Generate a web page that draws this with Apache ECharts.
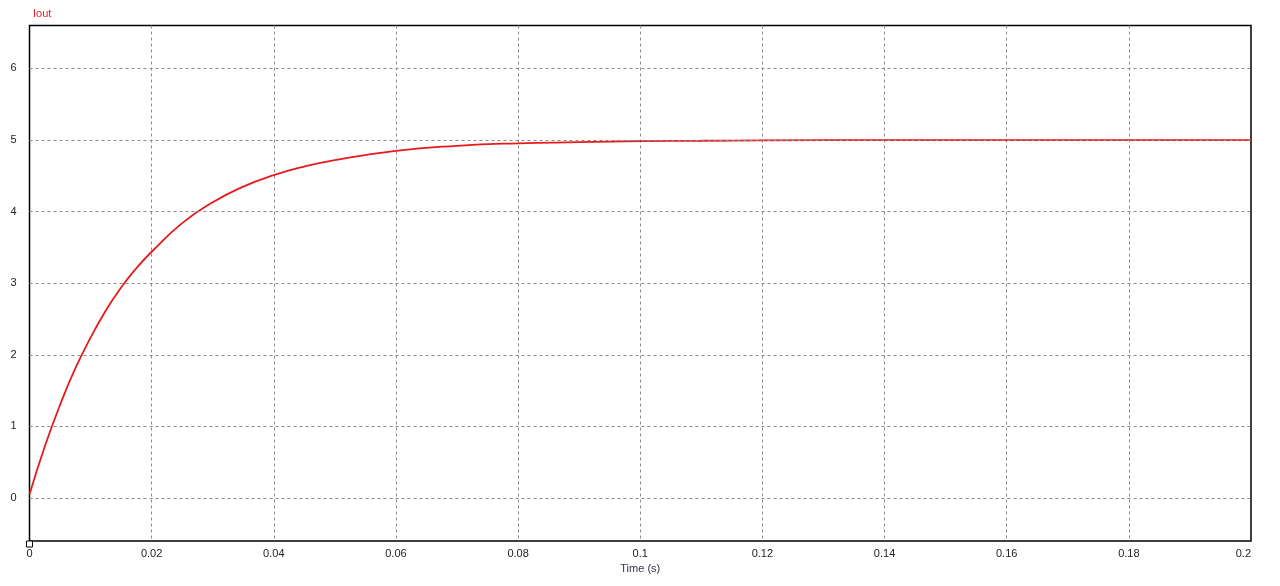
<!DOCTYPE html>
<html>
<head>
    <meta charset="utf-8">
    <title>Iout</title>
    <script src="https://cdn.jsdelivr.net/npm/echarts@6/dist/echarts.min.js"></script>
    <style>
        html, body { margin: 0; padding: 0; background: #fff; }
        #main { width: 1280px; height: 586px; }
    </style>
</head>
<body>
<div id="main"></div>
<script type="text/javascript">
    // values (time in s, current in A)
    var timeS = [0, 0.0025, 0.005, 0.0075, 0.01, 0.0125, 0.015, 0.0175, 0.02, 0.025, 0.03, 0.035,
        0.04, 0.045, 0.05, 0.06, 0.07, 0.08, 0.09, 0.1, 0.11, 0.12, 0.14, 0.16, 0.18, 0.2];
    var iout = [0.05, 0.72, 1.30, 1.81, 2.24, 2.62, 2.94, 3.21, 3.44, 3.84, 4.13, 4.35,
        4.51, 4.63, 4.72, 4.85, 4.92, 4.955, 4.97, 4.985, 4.99, 4.995, 5.0, 5.0, 5.0, 5.0];
    var yTicks = [0, 1, 2, 3, 4, 5, 6];

    var myChart = echarts.init(document.getElementById('main'));

    var points = timeS.map(function (t, i) { return [t, iout[i]]; });

    var option = {
        backgroundColor: '#fff',
        animation: false,
        textStyle: { fontFamily: 'Liberation Sans, Arial, sans-serif' },
        title: {
            text: 'Iout',
            left: 28,
            top: 3,
            textStyle: { fontSize: 11, fontWeight: 'normal', color: '#e0202a' }
        },
        grid: {
            left: 29.5, right: 29, top: 25.5, bottom: 45,
            show: true,
            borderColor: '#000',
            borderWidth: 1.5
        },
        xAxis: {
            type: 'value',
            min: 0,
            max: 0.2,
            interval: 0.02,
            name: 'Time (s)',
            nameLocation: 'middle',
            nameGap: 21,
            nameTextStyle: { fontSize: 11, color: '#3a2f45' },
            axisLine: { show: false },
            axisTick: { show: false },
            axisLabel: {
                fontSize: 11,
                color: '#222',
                margin: 7,
                alignMaxLabel: 'right',
                formatter: function (v) { return String(parseFloat(v.toFixed(3))); }
            },
            splitLine: {
                show: true,
                showMinLine: false,
                showMaxLine: false,
                lineStyle: { color: '#8c8c8c', type: [3, 3], width: 1 }
            }
        },
        yAxis: {
            type: 'value',
            min: -0.6,
            max: 6.6,
            axisLine: { show: false },
            axisTick: { show: false },
            splitLine: { show: false },
            axisLabel: {
                fontSize: 11,
                color: '#222',
                margin: 13,
                customValues: yTicks
            }
        },
        series: [{
            type: 'line',
            data: points,
            smooth: true,
            showSymbol: false,
            lineStyle: { color: '#e51a1a', width: 1.8 },
            markLine: {
                silent: true,
                symbol: 'none',
                label: { show: false },
                lineStyle: { color: '#8c8c8c', type: [3, 3], width: 1 },
                data: yTicks.map(function (v) { return { yAxis: v }; })
            },
            markPoint: {
                silent: true,
                symbol: 'rect',
                symbolSize: 6,
                symbolOffset: [0, 3],
                label: { show: false },
                itemStyle: { color: '#fff', borderColor: '#000', borderWidth: 1 },
                data: [{ coord: [0, -0.6] }]
            }
        }]
    };

    myChart.setOption(option);
</script>
</body>
</html>
